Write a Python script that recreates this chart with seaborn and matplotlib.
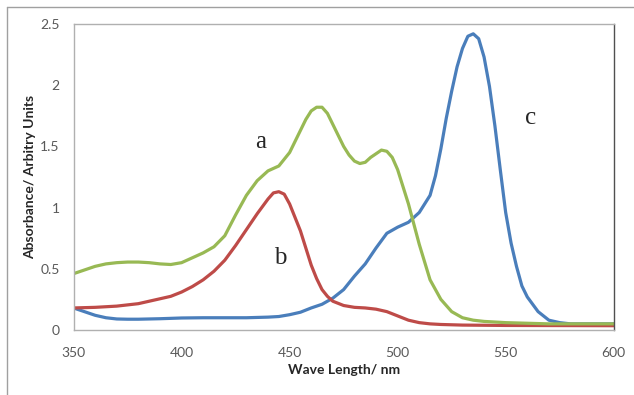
import numpy as np
import pandas as pd
import seaborn as sns
from matplotlib import pyplot as plt
from matplotlib.lines import Line2D

# spectrum a (green)
wavelength_a = [350, 355, 360, 365, 370, 375, 380, 385, 390, 395,
                400, 405, 410, 415, 420, 425, 430, 435, 440, 445,
                450, 455, 457.5, 460, 462.5, 465, 467.5, 470, 472.5, 475,
                477.5, 480, 482.5, 485, 487.5, 490, 492.5, 495, 497.5, 500,
                505, 510, 515, 520, 525, 530, 535, 540, 550, 560,
                570, 580, 590, 600]
absorbance_a = [0.46, 0.49, 0.52, 0.54, 0.55, 0.555, 0.555, 0.55, 0.54, 0.535,
                0.55, 0.59, 0.63, 0.68, 0.77, 0.94, 1.10, 1.22, 1.30, 1.34,
                1.45, 1.63, 1.72, 1.79, 1.82, 1.82, 1.77, 1.68, 1.59, 1.50,
                1.43, 1.38, 1.36, 1.37, 1.41, 1.44, 1.47, 1.46, 1.41, 1.31,
                1.03, 0.70, 0.41, 0.25, 0.15, 0.10, 0.08, 0.07, 0.06, 0.055,
                0.05, 0.05, 0.05, 0.05]

# spectrum b (red)
wavelength_b = [350, 360, 370, 375, 380, 385, 390, 395, 400, 405,
                410, 415, 420, 425, 430, 435, 437.5, 440, 442.5, 445,
                447.5, 450, 452.5, 455, 457.5, 460, 462.5, 465, 467.5, 470,
                475, 480, 485, 490, 495, 500, 505, 510, 515, 520,
                530, 550, 600]
absorbance_b = [0.18, 0.185, 0.195, 0.205, 0.215, 0.235, 0.255, 0.275, 0.31, 0.355,
                0.41, 0.48, 0.57, 0.69, 0.82, 0.95, 1.01, 1.07, 1.12, 1.13,
                1.11, 1.03, 0.92, 0.81, 0.67, 0.53, 0.42, 0.33, 0.275, 0.235,
                0.20, 0.185, 0.18, 0.17, 0.15, 0.115, 0.08, 0.06, 0.05, 0.045,
                0.04, 0.037, 0.035]

# spectrum c (blue)
wavelength_c = [350, 355, 360, 365, 370, 375, 380, 390, 400, 410,
                420, 430, 440, 445, 450, 455, 460, 465, 470, 475,
                480, 485, 490, 495, 500, 505, 510, 515, 517.5, 520,
                522.5, 525, 527.5, 530, 532.5, 535, 537.5, 540, 542.5, 545,
                547.5, 550, 552.5, 555, 557.5, 560, 565, 570, 575, 580,
                590, 600]
absorbance_c = [0.18, 0.15, 0.12, 0.10, 0.09, 0.088, 0.088, 0.092, 0.098, 0.10,
                0.10, 0.10, 0.105, 0.11, 0.125, 0.145, 0.18, 0.21, 0.26, 0.33,
                0.44, 0.54, 0.67, 0.79, 0.84, 0.88, 0.96, 1.10, 1.26, 1.48,
                1.73, 1.95, 2.15, 2.30, 2.40, 2.42, 2.38, 2.23, 1.99, 1.67,
                1.31, 0.96, 0.71, 0.52, 0.36, 0.27, 0.15, 0.08, 0.06, 0.05,
                0.05, 0.05]

x_ticks = [350, 400, 450, 500, 550, 600]
y_ticks = [0, 0.5, 1, 1.5, 2, 2.5]
y_tick_labels = ["0", "0.5", "1", "1.5", "2", "2.5"]

colors = {"a": "#98B954", "b": "#BE4B48", "c": "#4A7EBB"}

frames = []
for name, wl, ab in [("c", wavelength_c, absorbance_c),
                     ("b", wavelength_b, absorbance_b),
                     ("a", wavelength_a, absorbance_a)]:
    frames.append(pd.DataFrame({"wavelength": wl, "absorbance": ab, "sample": name}))
long_df = pd.concat(frames, ignore_index=True)

sns.set_style("white")
plt.rcParams["font.family"] = ["Lato", "DejaVu Sans"]

fig = plt.figure(figsize=(6.34, 3.95), dpi=100)
ax = fig.add_axes([0.116, 0.1646, 0.852, 0.7746])

sns.lineplot(data=long_df, x="wavelength", y="absorbance", hue="sample",
             palette=colors, hue_order=["c", "b", "a"], linewidth=2.3,
             legend=False, ax=ax, sort=True)

ax.set_xlim(350, 600)
ax.set_ylim(0, 2.5)
ax.set_xticks(x_ticks)
ax.set_yticks(y_ticks)
ax.set_yticklabels(y_tick_labels)
ax.tick_params(length=0, labelsize=10, labelcolor="#595959")
ax.tick_params(axis="x", pad=12)
ax.tick_params(axis="y", pad=10)

for side in ["left", "bottom", "top"]:
    ax.spines[side].set_color("#B0B0B0")
    ax.spines[side].set_linewidth(1.0)
ax.spines["right"].set_color("#505050")
ax.spines["right"].set_linewidth(1.0)

ax.set_xlabel("Wave Length/ nm", fontsize=10, fontweight="bold", labelpad=4)
ax.set_ylabel("Absorbance/ Arbitry Units", fontsize=10, fontweight="bold", labelpad=3)

# curve labels
serif = ["Liberation Serif", "DejaVu Serif"]
ax.text(436.5, 1.54, "a", fontsize=18, family=serif, ha="center", va="center")
ax.text(445.5, 0.59, "b", fontsize=18, family=serif, ha="center", va="center")
ax.text(561.5, 1.73, "c", fontsize=18, family=serif, ha="center", va="center")

# outer chart border (only top and left edges fall inside the image)
fig.add_artist(Line2D([7 / 634, 7 / 634], [0, 1 - 7 / 395],
                      transform=fig.transFigure, color="#A0A0A0", linewidth=1.0))
fig.add_artist(Line2D([7 / 634, 1], [1 - 7 / 395, 1 - 7 / 395],
                      transform=fig.transFigure, color="#A0A0A0", linewidth=1.0))

plt.savefig("out.png", dpi=100)
plt.close(fig)
